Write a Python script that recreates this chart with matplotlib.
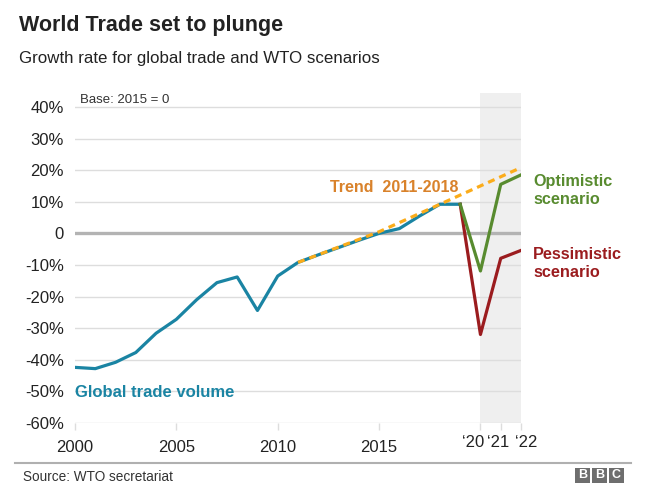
import numpy as np
import matplotlib.pyplot as plt
from matplotlib.patches import Rectangle
from matplotlib.transforms import offset_copy

# ==========================================
# DATA
# ==========================================

years = [2000, 2001, 2002, 2003, 2004, 2005, 2006, 2007, 2008, 2009,
         2010, 2011, 2012, 2013, 2014, 2015, 2016, 2017, 2018, 2019]

trade_volume = [-42.4, -42.8, -40.8, -37.7, -31.6, -27.2, -21.0, -15.6, -13.8, -24.4,
                -13.5, -9.2, -6.8, -4.5, -2.2, 0.0, 1.5, 5.5, 9.2, 9.2]

trend_years = [2011, 2015, 2018, 2022]
trend_values = [-9.2, 0.5, 9.2, 20.8]

scenario_years = [2019, 2020, 2021, 2022]
optimistic = [9.2, -11.9, 15.5, 18.5]
pessimistic = [9.2, -32.0, -7.9, -5.4]

y_ticks = [40, 30, 20, 10, 0, -10, -20, -30, -40, -50, -60]
y_labels = ["40%", "30%", "20%", "10%", "0", "-10%", "-20%", "-30%", "-40%", "-50%", "-60%"]

x_ticks = [2000, 2005, 2010, 2015, 2020, 2021, 2022]
x_labels = ["2000", "2005", "2010", "2015", "", "", ""]

short_ticks = [2020, 2021, 2022]
short_labels = ["\u201820", "\u201821", "\u201822"]

# ==========================================
# STYLE
# ==========================================

plt.rcParams["font.family"] = ["Liberation Sans", "DejaVu Sans"]

BLUE = "#1a84a3"
ORANGE = "#fbac1a"
ORANGE_TEXT = "#d9822b"
GREEN = "#588b2f"
RED = "#9b1c1f"
TEXT = "#222222"

fig = plt.figure(figsize=(6.66, 4.95), dpi=100)

ax = fig.add_axes([75 / 666, 72 / 495, 446 / 666, 330 / 495])

ax.set_xlim(2000, 2022)
ax.set_ylim(-60, 44.4)

# ==========================================
# FORECAST SHADE
# ==========================================

ax.axvspan(2020, 2022, color="#efefef", zorder=0, lw=0)

# ==========================================
# GRID
# ==========================================

for v in y_ticks:
    if v == 0:
        ax.axhline(v, color="#b3b3b3", lw=2.4, zorder=1)
    else:
        ax.axhline(v, color="#dddddd", lw=1, zorder=1)

# ==========================================
# LINES
# ==========================================

ax.plot(years, trade_volume, color=BLUE, lw=2.3, zorder=3)

ax.plot(scenario_years, pessimistic, color=RED, lw=2.3, zorder=3)
ax.plot(scenario_years, optimistic, color=GREEN, lw=2.3, zorder=4)

ax.plot(trend_years, trend_values, color=ORANGE, lw=2.3, zorder=5,
        linestyle=(0, (2.2, 1.6)))

# ==========================================
# AXES
# ==========================================

for s in ax.spines.values():
    s.set_visible(False)

ax.set_yticks(y_ticks)
ax.set_yticklabels(y_labels, fontsize=12, color=TEXT)
ax.tick_params(axis="y", length=0, pad=8)

ax.set_xticks(x_ticks)
ax.set_xticklabels(x_labels, fontsize=12, color=TEXT)
ax.tick_params(axis="x", length=5, width=1, color="#dddddd", pad=7)

# short year labels, nudged apart like the original
nudges = [-7, -3, 5]
for yr, lab, dx in zip(short_ticks, short_labels, nudges):
    tr = offset_copy(ax.get_xaxis_transform(), fig=fig, x=dx, y=0, units="dots")
    ax.text(yr, -0.036, lab, transform=tr, fontsize=12, color=TEXT,
            ha="center", va="top")

ax.patch.set_alpha(0)

# ==========================================
# LABELS
# ==========================================

ax.text(2000.25, 44.2, "Base: 2015 = 0", fontsize=9.5, color="#333333", va="top")

ax.text(2000, -50.3, "Global trade volume", fontsize=12, fontweight="bold",
        color=BLUE, va="center", ha="left")

ax.text(2012.6, 14.6, "Trend  2011-2018", fontsize=11.5, fontweight="bold",
        color=ORANGE_TEXT, va="center", ha="left")

ax.text(2022.6, 13.6, "Optimistic\nscenario", fontsize=11.7, fontweight="bold",
        color=GREEN, va="center", ha="left", linespacing=1.3)

ax.text(2022.6, -9.5, "Pessimistic\nscenario", fontsize=11.7, fontweight="bold",
        color=RED, va="center", ha="left", linespacing=1.3)

# ==========================================
# TITLES
# ==========================================

fig.text(19 / 666, 1 - 25 / 495, "World Trade set to plunge", fontsize=15.5,
         fontweight="bold", color=TEXT, va="center", ha="left")

fig.text(19 / 666, 1 - 58 / 495, "Growth rate for global trade and WTO scenarios",
         fontsize=12.2, color=TEXT, va="center", ha="left")

# ==========================================
# FOOTER
# ==========================================

fig.add_artist(plt.Line2D([15 / 666, 631 / 666], [1 - 463 / 495, 1 - 463 / 495],
                          color="#b0b0b0", lw=1.5))

fig.text(23 / 666, 1 - 477 / 495, "Source: WTO secretariat", fontsize=9.8,
         color="#333333", va="center", ha="left")

for i, letter in enumerate("BBC"):
    x0 = (575 + i * 17) / 666
    fig.add_artist(Rectangle((x0, 1 - 483 / 495), 15 / 666, 15 / 495,
                             transform=fig.transFigure, color="#6e6e6e", lw=0))
    fig.text(x0 + 7.5 / 666, 1 - 475.5 / 495, letter, fontsize=9, fontweight="bold",
             color="white", va="center", ha="center")

# ==========================================
# SAVE
# ==========================================

fig.savefig("out.png", dpi=100)
